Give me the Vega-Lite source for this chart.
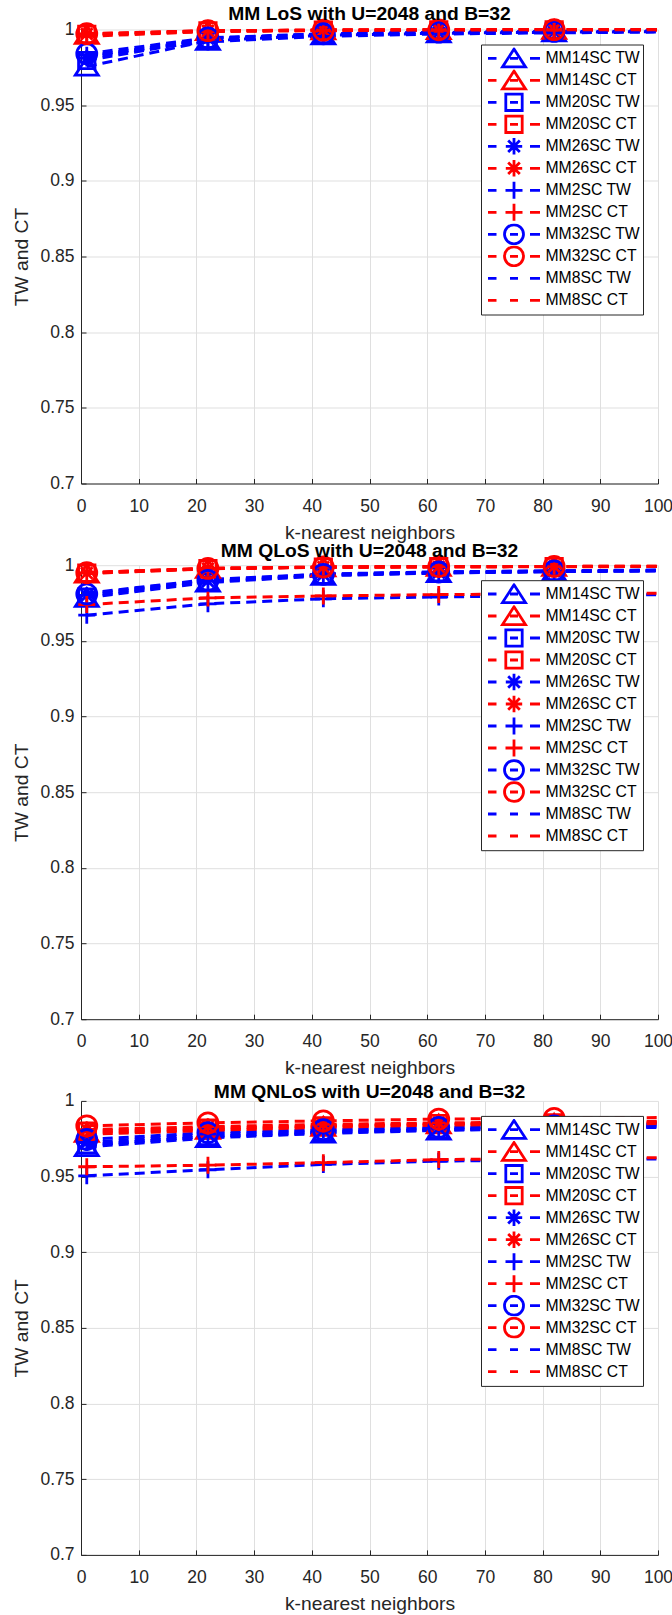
{
"$schema": "https://vega.github.io/schema/vega-lite/v6.json",
"autosize": {"type": "pad"},
"padding": {"left": 12, "top": 4.5, "right": 5, "bottom": 0},
"background": "white",
"bounds": "flush",
"spacing": 81.7,
"config": {
  "font": "Liberation Sans",
  "view": {"stroke": null},
  "title": {"fontSize": 19.25, "fontWeight": "bold", "font": "Liberation Sans", "color": "black", "anchor": "middle", "offset": -10, "baseline": "alphabetic"},
  "axis": {"domainColor": "#262626", "tickColor": "#262626", "labelColor": "#262626", "titleColor": "#262626", "gridColor": "#dfdfdf", "gridWidth": 1, "labelFontSize": 17.5, "titleFontSize": 19.25, "titleFontWeight": "normal", "labelFont": "Liberation Sans", "titleFont": "Liberation Sans", "tickSize": -5, "domainWidth": 1, "labelFlush": false, "labelOverlap": false},
  "axisX": {"labelPadding": 18.5, "titlePadding": 8.5},
  "axisY": {"labelPadding": 12, "titlePadding": 8},
  "legend": {"orient": "top-right", "offset": 15, "padding": 3, "fillColor": "white", "strokeColor": "#262626", "strokeWidth": 1, "cornerRadius": 0, "labelFontSize": 15.75, "labelFont": "Liberation Sans", "labelColor": "black", "labelOffset": 20, "symbolOffset": 18.5, "clipHeight": 21.6, "rowPadding": 0, "symbolStrokeWidth": 2.8, "symbolSize": 400, "symbolOpacity": 1, "titlePadding": 0}
},
"resolve": {"scale": {"color": "independent", "shape": "independent"}, "legend": {"color": "independent", "shape": "independent"}},
"datasets": {"d": [
{"p":"LoS","s":"MM14SC TW","k":1,"v":0.9755},{"p":"LoS","s":"MM14SC TW","k":22,"v":0.9925},{"p":"LoS","s":"MM14SC TW","k":42,"v":0.9962},{"p":"LoS","s":"MM14SC TW","k":62,"v":0.9975},{"p":"LoS","s":"MM14SC TW","k":82,"v":0.9982},{"p":"LoS","s":"MM14SC TW","k":100,"v":0.9986},
{"p":"LoS","s":"MM14SC CT","k":1,"v":0.9966},{"p":"LoS","s":"MM14SC CT","k":22,"v":0.999},{"p":"LoS","s":"MM14SC CT","k":42,"v":0.9995},{"p":"LoS","s":"MM14SC CT","k":62,"v":0.9997},{"p":"LoS","s":"MM14SC CT","k":82,"v":0.9998},{"p":"LoS","s":"MM14SC CT","k":100,"v":0.9999},
{"p":"LoS","s":"MM20SC TW","k":1,"v":0.9795},{"p":"LoS","s":"MM20SC TW","k":22,"v":0.9935},{"p":"LoS","s":"MM20SC TW","k":42,"v":0.9967},{"p":"LoS","s":"MM20SC TW","k":62,"v":0.9978},{"p":"LoS","s":"MM20SC TW","k":82,"v":0.9984},{"p":"LoS","s":"MM20SC TW","k":100,"v":0.9988},
{"p":"LoS","s":"MM20SC CT","k":1,"v":0.9968},{"p":"LoS","s":"MM20SC CT","k":22,"v":0.9991},{"p":"LoS","s":"MM20SC CT","k":42,"v":0.9996},{"p":"LoS","s":"MM20SC CT","k":62,"v":0.9997},{"p":"LoS","s":"MM20SC CT","k":82,"v":0.9998},{"p":"LoS","s":"MM20SC CT","k":100,"v":0.9999},
{"p":"LoS","s":"MM26SC TW","k":1,"v":0.981},{"p":"LoS","s":"MM26SC TW","k":22,"v":0.994},{"p":"LoS","s":"MM26SC TW","k":42,"v":0.997},{"p":"LoS","s":"MM26SC TW","k":62,"v":0.998},{"p":"LoS","s":"MM26SC TW","k":82,"v":0.9985},{"p":"LoS","s":"MM26SC TW","k":100,"v":0.9989},
{"p":"LoS","s":"MM26SC CT","k":1,"v":0.997},{"p":"LoS","s":"MM26SC CT","k":22,"v":0.9991},{"p":"LoS","s":"MM26SC CT","k":42,"v":0.9996},{"p":"LoS","s":"MM26SC CT","k":62,"v":0.9998},{"p":"LoS","s":"MM26SC CT","k":82,"v":0.9998},{"p":"LoS","s":"MM26SC CT","k":100,"v":0.9999},
{"p":"LoS","s":"MM2SC TW","k":1,"v":0.983},{"p":"LoS","s":"MM2SC TW","k":22,"v":0.9918},{"p":"LoS","s":"MM2SC TW","k":42,"v":0.9955},{"p":"LoS","s":"MM2SC TW","k":62,"v":0.997},{"p":"LoS","s":"MM2SC TW","k":82,"v":0.9978},{"p":"LoS","s":"MM2SC TW","k":100,"v":0.9983},
{"p":"LoS","s":"MM2SC CT","k":1,"v":0.9955},{"p":"LoS","s":"MM2SC CT","k":22,"v":0.9986},{"p":"LoS","s":"MM2SC CT","k":42,"v":0.9992},{"p":"LoS","s":"MM2SC CT","k":62,"v":0.9995},{"p":"LoS","s":"MM2SC CT","k":82,"v":0.9996},{"p":"LoS","s":"MM2SC CT","k":100,"v":0.9997},
{"p":"LoS","s":"MM32SC TW","k":1,"v":0.984},{"p":"LoS","s":"MM32SC TW","k":22,"v":0.9945},{"p":"LoS","s":"MM32SC TW","k":42,"v":0.9972},{"p":"LoS","s":"MM32SC TW","k":62,"v":0.9982},{"p":"LoS","s":"MM32SC TW","k":82,"v":0.9987},{"p":"LoS","s":"MM32SC TW","k":100,"v":0.999},
{"p":"LoS","s":"MM32SC CT","k":1,"v":0.9972},{"p":"LoS","s":"MM32SC CT","k":22,"v":0.9992},{"p":"LoS","s":"MM32SC CT","k":42,"v":0.9996},{"p":"LoS","s":"MM32SC CT","k":62,"v":0.9998},{"p":"LoS","s":"MM32SC CT","k":82,"v":0.9999},{"p":"LoS","s":"MM32SC CT","k":100,"v":0.9999},
{"p":"LoS","s":"MM8SC TW","k":1,"v":0.982},{"p":"LoS","s":"MM8SC TW","k":22,"v":0.994},{"p":"LoS","s":"MM8SC TW","k":42,"v":0.997},{"p":"LoS","s":"MM8SC TW","k":62,"v":0.998},{"p":"LoS","s":"MM8SC TW","k":82,"v":0.9985},{"p":"LoS","s":"MM8SC TW","k":100,"v":0.9989},
{"p":"LoS","s":"MM8SC CT","k":1,"v":0.9968},{"p":"LoS","s":"MM8SC CT","k":22,"v":0.999},{"p":"LoS","s":"MM8SC CT","k":42,"v":0.9995},{"p":"LoS","s":"MM8SC CT","k":62,"v":0.9997},{"p":"LoS","s":"MM8SC CT","k":82,"v":0.9998},{"p":"LoS","s":"MM8SC CT","k":100,"v":0.9999},
{"p":"QLoS","s":"MM14SC TW","k":1,"v":0.9785},{"p":"QLoS","s":"MM14SC TW","k":22,"v":0.9885},{"p":"QLoS","s":"MM14SC TW","k":42,"v":0.993},{"p":"QLoS","s":"MM14SC TW","k":62,"v":0.9948},{"p":"QLoS","s":"MM14SC TW","k":82,"v":0.9957},{"p":"QLoS","s":"MM14SC TW","k":100,"v":0.9962},
{"p":"QLoS","s":"MM14SC CT","k":1,"v":0.9945},{"p":"QLoS","s":"MM14SC CT","k":22,"v":0.9976},{"p":"QLoS","s":"MM14SC CT","k":42,"v":0.9986},{"p":"QLoS","s":"MM14SC CT","k":62,"v":0.9989},{"p":"QLoS","s":"MM14SC CT","k":82,"v":0.999},{"p":"QLoS","s":"MM14SC CT","k":100,"v":0.9991},
{"p":"QLoS","s":"MM20SC TW","k":1,"v":0.979},{"p":"QLoS","s":"MM20SC TW","k":22,"v":0.989},{"p":"QLoS","s":"MM20SC TW","k":42,"v":0.9934},{"p":"QLoS","s":"MM20SC TW","k":62,"v":0.995},{"p":"QLoS","s":"MM20SC TW","k":82,"v":0.9958},{"p":"QLoS","s":"MM20SC TW","k":100,"v":0.9963},
{"p":"QLoS","s":"MM20SC CT","k":1,"v":0.9947},{"p":"QLoS","s":"MM20SC CT","k":22,"v":0.9977},{"p":"QLoS","s":"MM20SC CT","k":42,"v":0.9987},{"p":"QLoS","s":"MM20SC CT","k":62,"v":0.999},{"p":"QLoS","s":"MM20SC CT","k":82,"v":0.9991},{"p":"QLoS","s":"MM20SC CT","k":100,"v":0.9992},
{"p":"QLoS","s":"MM26SC TW","k":1,"v":0.98},{"p":"QLoS","s":"MM26SC TW","k":22,"v":0.9895},{"p":"QLoS","s":"MM26SC TW","k":42,"v":0.9937},{"p":"QLoS","s":"MM26SC TW","k":62,"v":0.9952},{"p":"QLoS","s":"MM26SC TW","k":82,"v":0.996},{"p":"QLoS","s":"MM26SC TW","k":100,"v":0.9965},
{"p":"QLoS","s":"MM26SC CT","k":1,"v":0.9948},{"p":"QLoS","s":"MM26SC CT","k":22,"v":0.9978},{"p":"QLoS","s":"MM26SC CT","k":42,"v":0.9987},{"p":"QLoS","s":"MM26SC CT","k":62,"v":0.999},{"p":"QLoS","s":"MM26SC CT","k":82,"v":0.9991},{"p":"QLoS","s":"MM26SC CT","k":100,"v":0.9992},
{"p":"QLoS","s":"MM2SC TW","k":1,"v":0.967},{"p":"QLoS","s":"MM2SC TW","k":22,"v":0.9745},{"p":"QLoS","s":"MM2SC TW","k":42,"v":0.9778},{"p":"QLoS","s":"MM2SC TW","k":62,"v":0.979},{"p":"QLoS","s":"MM2SC TW","k":82,"v":0.98},{"p":"QLoS","s":"MM2SC TW","k":100,"v":0.9805},
{"p":"QLoS","s":"MM2SC CT","k":1,"v":0.974},{"p":"QLoS","s":"MM2SC CT","k":22,"v":0.9784},{"p":"QLoS","s":"MM2SC CT","k":42,"v":0.9797},{"p":"QLoS","s":"MM2SC CT","k":62,"v":0.9806},{"p":"QLoS","s":"MM2SC CT","k":82,"v":0.981},{"p":"QLoS","s":"MM2SC CT","k":100,"v":0.9815},
{"p":"QLoS","s":"MM32SC TW","k":1,"v":0.981},{"p":"QLoS","s":"MM32SC TW","k":22,"v":0.99},{"p":"QLoS","s":"MM32SC TW","k":42,"v":0.994},{"p":"QLoS","s":"MM32SC TW","k":62,"v":0.9955},{"p":"QLoS","s":"MM32SC TW","k":82,"v":0.9962},{"p":"QLoS","s":"MM32SC TW","k":100,"v":0.9967},
{"p":"QLoS","s":"MM32SC CT","k":1,"v":0.995},{"p":"QLoS","s":"MM32SC CT","k":22,"v":0.9979},{"p":"QLoS","s":"MM32SC CT","k":42,"v":0.9988},{"p":"QLoS","s":"MM32SC CT","k":62,"v":0.9991},{"p":"QLoS","s":"MM32SC CT","k":82,"v":0.9992},{"p":"QLoS","s":"MM32SC CT","k":100,"v":0.9993},
{"p":"QLoS","s":"MM8SC TW","k":1,"v":0.9815},{"p":"QLoS","s":"MM8SC TW","k":22,"v":0.9905},{"p":"QLoS","s":"MM8SC TW","k":42,"v":0.9942},{"p":"QLoS","s":"MM8SC TW","k":62,"v":0.9956},{"p":"QLoS","s":"MM8SC TW","k":82,"v":0.9963},{"p":"QLoS","s":"MM8SC TW","k":100,"v":0.9968},
{"p":"QLoS","s":"MM8SC CT","k":1,"v":0.9952},{"p":"QLoS","s":"MM8SC CT","k":22,"v":0.9979},{"p":"QLoS","s":"MM8SC CT","k":42,"v":0.9988},{"p":"QLoS","s":"MM8SC CT","k":62,"v":0.9991},{"p":"QLoS","s":"MM8SC CT","k":82,"v":0.9992},{"p":"QLoS","s":"MM8SC CT","k":100,"v":0.9993},
{"p":"QNLoS","s":"MM14SC TW","k":1,"v":0.9695},{"p":"QNLoS","s":"MM14SC TW","k":22,"v":0.9755},{"p":"QNLoS","s":"MM14SC TW","k":42,"v":0.9785},{"p":"QNLoS","s":"MM14SC TW","k":62,"v":0.9805},{"p":"QNLoS","s":"MM14SC TW","k":82,"v":0.9815},{"p":"QNLoS","s":"MM14SC TW","k":100,"v":0.9825},
{"p":"QNLoS","s":"MM14SC CT","k":1,"v":0.979},{"p":"QNLoS","s":"MM14SC CT","k":22,"v":0.981},{"p":"QNLoS","s":"MM14SC CT","k":42,"v":0.983},{"p":"QNLoS","s":"MM14SC CT","k":62,"v":0.9845},{"p":"QNLoS","s":"MM14SC CT","k":82,"v":0.985},{"p":"QNLoS","s":"MM14SC CT","k":100,"v":0.9855},
{"p":"QNLoS","s":"MM20SC TW","k":1,"v":0.971},{"p":"QNLoS","s":"MM20SC TW","k":22,"v":0.9765},{"p":"QNLoS","s":"MM20SC TW","k":42,"v":0.9795},{"p":"QNLoS","s":"MM20SC TW","k":62,"v":0.981},{"p":"QNLoS","s":"MM20SC TW","k":82,"v":0.982},{"p":"QNLoS","s":"MM20SC TW","k":100,"v":0.983},
{"p":"QNLoS","s":"MM20SC CT","k":1,"v":0.98},{"p":"QNLoS","s":"MM20SC CT","k":22,"v":0.982},{"p":"QNLoS","s":"MM20SC CT","k":42,"v":0.9835},{"p":"QNLoS","s":"MM20SC CT","k":62,"v":0.985},{"p":"QNLoS","s":"MM20SC CT","k":82,"v":0.9855},{"p":"QNLoS","s":"MM20SC CT","k":100,"v":0.986},
{"p":"QNLoS","s":"MM26SC TW","k":1,"v":0.9725},{"p":"QNLoS","s":"MM26SC TW","k":22,"v":0.978},{"p":"QNLoS","s":"MM26SC TW","k":42,"v":0.9805},{"p":"QNLoS","s":"MM26SC TW","k":62,"v":0.982},{"p":"QNLoS","s":"MM26SC TW","k":82,"v":0.983},{"p":"QNLoS","s":"MM26SC TW","k":100,"v":0.984},
{"p":"QNLoS","s":"MM26SC CT","k":1,"v":0.981},{"p":"QNLoS","s":"MM26SC CT","k":22,"v":0.983},{"p":"QNLoS","s":"MM26SC CT","k":42,"v":0.9845},{"p":"QNLoS","s":"MM26SC CT","k":62,"v":0.9855},{"p":"QNLoS","s":"MM26SC CT","k":82,"v":0.986},{"p":"QNLoS","s":"MM26SC CT","k":100,"v":0.9865},
{"p":"QNLoS","s":"MM2SC TW","k":1,"v":0.9505},{"p":"QNLoS","s":"MM2SC TW","k":22,"v":0.9545},{"p":"QNLoS","s":"MM2SC TW","k":42,"v":0.958},{"p":"QNLoS","s":"MM2SC TW","k":62,"v":0.9602},{"p":"QNLoS","s":"MM2SC TW","k":82,"v":0.961},{"p":"QNLoS","s":"MM2SC TW","k":100,"v":0.9617},
{"p":"QNLoS","s":"MM2SC CT","k":1,"v":0.9565},{"p":"QNLoS","s":"MM2SC CT","k":22,"v":0.9575},{"p":"QNLoS","s":"MM2SC CT","k":42,"v":0.9592},{"p":"QNLoS","s":"MM2SC CT","k":62,"v":0.9612},{"p":"QNLoS","s":"MM2SC CT","k":82,"v":0.962},{"p":"QNLoS","s":"MM2SC CT","k":100,"v":0.9625},
{"p":"QNLoS","s":"MM32SC TW","k":1,"v":0.9745},{"p":"QNLoS","s":"MM32SC TW","k":22,"v":0.979},{"p":"QNLoS","s":"MM32SC TW","k":42,"v":0.981},{"p":"QNLoS","s":"MM32SC TW","k":62,"v":0.9825},{"p":"QNLoS","s":"MM32SC TW","k":82,"v":0.9835},{"p":"QNLoS","s":"MM32SC TW","k":100,"v":0.9845},
{"p":"QNLoS","s":"MM32SC CT","k":1,"v":0.9835},{"p":"QNLoS","s":"MM32SC CT","k":22,"v":0.9855},{"p":"QNLoS","s":"MM32SC CT","k":42,"v":0.9868},{"p":"QNLoS","s":"MM32SC CT","k":62,"v":0.988},{"p":"QNLoS","s":"MM32SC CT","k":82,"v":0.9885},{"p":"QNLoS","s":"MM32SC CT","k":100,"v":0.989},
{"p":"QNLoS","s":"MM8SC TW","k":1,"v":0.9705},{"p":"QNLoS","s":"MM8SC TW","k":22,"v":0.9765},{"p":"QNLoS","s":"MM8SC TW","k":42,"v":0.979},{"p":"QNLoS","s":"MM8SC TW","k":62,"v":0.981},{"p":"QNLoS","s":"MM8SC TW","k":82,"v":0.982},{"p":"QNLoS","s":"MM8SC TW","k":100,"v":0.983},
{"p":"QNLoS","s":"MM8SC CT","k":1,"v":0.978},{"p":"QNLoS","s":"MM8SC CT","k":22,"v":0.9805},{"p":"QNLoS","s":"MM8SC CT","k":42,"v":0.9825},{"p":"QNLoS","s":"MM8SC CT","k":62,"v":0.984},{"p":"QNLoS","s":"MM8SC CT","k":82,"v":0.9845},{"p":"QNLoS","s":"MM8SC CT","k":100,"v":0.985}
]},
"vconcat": [
{
  "title": {"text": "MM LoS with U=2048 and B=32"},
  "width": 577, "height": 454,
  "data": {"name": "d"},
  "transform": [{"filter": "datum.p == 'LoS'"}],
  "resolve": {"scale": {"color": "independent", "shape": "independent"}},
  "layer": [
    {"mark": {"type": "line", "strokeDash": [10, 6], "strokeWidth": 3},
     "encoding": {
      "x": {"field": "k", "type": "quantitative", "title": "k-nearest neighbors", "scale": {"domain": [0, 100], "nice": false}, "axis": {"values": [0,10,20,30,40,50,60,70,80,90,100], "grid": true}},
      "y": {"field": "v", "type": "quantitative", "title": "TW and CT", "scale": {"domain": [0.7, 1], "nice": false, "zero": false}, "axis": {"values": [0.7,0.75,0.8,0.85,0.9,0.95,1], "format": ".2~f", "grid": true}},
      "color": {"field": "s", "type": "nominal", "legend": null, "scale": {"domain": ["MM14SC TW","MM14SC CT","MM20SC TW","MM20SC CT","MM26SC TW","MM26SC CT","MM2SC TW","MM2SC CT","MM32SC TW","MM32SC CT","MM8SC TW","MM8SC CT"], "range": ["#0000ff","#ff0000","#0000ff","#ff0000","#0000ff","#ff0000","#0000ff","#ff0000","#0000ff","#ff0000","#0000ff","#ff0000"]}},
      "order": {"field": "k", "type": "quantitative"}
    }},
    {"transform": [{"filter": "datum.k < 100"}],
     "mark": {"type": "point", "filled": false, "size": 400, "strokeWidth": 2.8, "opacity": 1},
     "encoding": {
      "x": {"field": "k", "type": "quantitative"},
      "y": {"field": "v", "type": "quantitative"},
      "color": {"field": "s", "type": "nominal", "legend": null, "scale": {"domain": ["MM14SC TW","MM14SC CT","MM20SC TW","MM20SC CT","MM26SC TW","MM26SC CT","MM2SC TW","MM2SC CT","MM32SC TW","MM32SC CT","MM8SC TW","MM8SC CT"], "range": ["#0000ff","#ff0000","#0000ff","#ff0000","#0000ff","#ff0000","#0000ff","#ff0000","#0000ff","#ff0000","#0000ff","#ff0000"]}},
      "shape": {"field": "s", "type": "nominal", "legend": null, "scale": {"domain": ["MM14SC TW","MM14SC CT","MM20SC TW","MM20SC CT","MM26SC TW","MM26SC CT","MM2SC TW","MM2SC CT","MM32SC TW","MM32SC CT","MM8SC TW","MM8SC CT"], "range": ["M0,-0.92L1.15,0.86L-1.15,0.86Z","M0,-0.92L1.15,0.86L-1.15,0.86Z","M-0.82,-0.82H0.82V0.82H-0.82Z","M-0.82,-0.82H0.82V0.82H-0.82Z","M0,-0.82V0.82M-0.82,0H0.82M-0.58,-0.58L0.58,0.58M-0.58,0.58L0.58,-0.58","M0,-0.82V0.82M-0.82,0H0.82M-0.58,-0.58L0.58,0.58M-0.58,0.58L0.58,-0.58","M0,-0.85V0.85M-0.85,0H0.85","M0,-0.85V0.85M-0.85,0H0.85","M-1,0A1,1,0,1,0,1,0A1,1,0,1,0,-1,0Z","M-1,0A1,1,0,1,0,1,0A1,1,0,1,0,-1,0Z","M0,0","M0,0"]}}
    }},
    {"transform": [{"filter": "datum.k < 0"}],
     "mark": {"type": "point", "filled": false, "strokeWidth": 2.8, "opacity": 1},
     "encoding": {
      "x": {"field": "k", "type": "quantitative"},
      "y": {"field": "v", "type": "quantitative"},
      "color": {"field": "s", "type": "nominal", "legend": {"title": null}, "scale": {"domain": ["MM14SC TW","MM14SC CT","MM20SC TW","MM20SC CT","MM26SC TW","MM26SC CT","MM2SC TW","MM2SC CT","MM32SC TW","MM32SC CT","MM8SC TW","MM8SC CT"], "range": ["#0000ff","#ff0000","#0000ff","#ff0000","#0000ff","#ff0000","#0000ff","#ff0000","#0000ff","#ff0000","#0000ff","#ff0000"]}},
      "shape": {"field": "s", "type": "nominal", "legend": {"title": null}, "scale": {"domain": ["MM14SC TW","MM14SC CT","MM20SC TW","MM20SC CT","MM26SC TW","MM26SC CT","MM2SC TW","MM2SC CT","MM32SC TW","MM32SC CT","MM8SC TW","MM8SC CT"], "range": ["M-2.6,0H-1.75M-0.4,0H0.4M1.6,0H2.6M0,-0.92L1.15,0.86L-1.15,0.86Z","M-2.6,0H-1.75M-0.4,0H0.4M1.6,0H2.6M0,-0.92L1.15,0.86L-1.15,0.86Z","M-2.6,0H-1.75M-0.4,0H0.4M1.6,0H2.6M-0.82,-0.82H0.82V0.82H-0.82Z","M-2.6,0H-1.75M-0.4,0H0.4M1.6,0H2.6M-0.82,-0.82H0.82V0.82H-0.82Z","M-2.6,0H-1.75M-0.4,0H0.4M1.6,0H2.6M0,-0.82V0.82M-0.82,0H0.82M-0.58,-0.58L0.58,0.58M-0.58,0.58L0.58,-0.58","M-2.6,0H-1.75M-0.4,0H0.4M1.6,0H2.6M0,-0.82V0.82M-0.82,0H0.82M-0.58,-0.58L0.58,0.58M-0.58,0.58L0.58,-0.58","M-2.6,0H-1.75M-0.4,0H0.4M1.6,0H2.6M0,-0.85V0.85M-0.85,0H0.85","M-2.6,0H-1.75M-0.4,0H0.4M1.6,0H2.6M0,-0.85V0.85M-0.85,0H0.85","M-2.6,0H-1.75M-0.4,0H0.4M1.6,0H2.6M-0.95,0A0.95,0.95,0,1,0,0.95,0A0.95,0.95,0,1,0,-0.95,0Z","M-2.6,0H-1.75M-0.4,0H0.4M1.6,0H2.6M-0.95,0A0.95,0.95,0,1,0,0.95,0A0.95,0.95,0,1,0,-0.95,0Z","M-2.6,0H-1.75M-0.4,0H0.4M1.6,0H2.6","M-2.6,0H-1.75M-0.4,0H0.4M1.6,0H2.6"]}}
    }}
  ]
},
{
  "title": {"text": "MM QLoS with U=2048 and B=32"},
  "width": 577, "height": 454,
  "data": {"name": "d"},
  "transform": [{"filter": "datum.p == 'QLoS'"}],
  "resolve": {"scale": {"color": "independent", "shape": "independent"}},
  "layer": [
    {"mark": {"type": "line", "strokeDash": [10, 6], "strokeWidth": 3},
     "encoding": {
      "x": {"field": "k", "type": "quantitative", "title": "k-nearest neighbors", "scale": {"domain": [0, 100], "nice": false}, "axis": {"values": [0,10,20,30,40,50,60,70,80,90,100], "grid": true}},
      "y": {"field": "v", "type": "quantitative", "title": "TW and CT", "scale": {"domain": [0.7, 1], "nice": false, "zero": false}, "axis": {"values": [0.7,0.75,0.8,0.85,0.9,0.95,1], "format": ".2~f", "grid": true}},
      "color": {"field": "s", "type": "nominal", "legend": null, "scale": {"domain": ["MM14SC TW","MM14SC CT","MM20SC TW","MM20SC CT","MM26SC TW","MM26SC CT","MM2SC TW","MM2SC CT","MM32SC TW","MM32SC CT","MM8SC TW","MM8SC CT"], "range": ["#0000ff","#ff0000","#0000ff","#ff0000","#0000ff","#ff0000","#0000ff","#ff0000","#0000ff","#ff0000","#0000ff","#ff0000"]}},
      "order": {"field": "k", "type": "quantitative"}
    }},
    {"transform": [{"filter": "datum.k < 100"}],
     "mark": {"type": "point", "filled": false, "size": 400, "strokeWidth": 2.8, "opacity": 1},
     "encoding": {
      "x": {"field": "k", "type": "quantitative"},
      "y": {"field": "v", "type": "quantitative"},
      "color": {"field": "s", "type": "nominal", "legend": null, "scale": {"domain": ["MM14SC TW","MM14SC CT","MM20SC TW","MM20SC CT","MM26SC TW","MM26SC CT","MM2SC TW","MM2SC CT","MM32SC TW","MM32SC CT","MM8SC TW","MM8SC CT"], "range": ["#0000ff","#ff0000","#0000ff","#ff0000","#0000ff","#ff0000","#0000ff","#ff0000","#0000ff","#ff0000","#0000ff","#ff0000"]}},
      "shape": {"field": "s", "type": "nominal", "legend": null, "scale": {"domain": ["MM14SC TW","MM14SC CT","MM20SC TW","MM20SC CT","MM26SC TW","MM26SC CT","MM2SC TW","MM2SC CT","MM32SC TW","MM32SC CT","MM8SC TW","MM8SC CT"], "range": ["M0,-0.92L1.15,0.86L-1.15,0.86Z","M0,-0.92L1.15,0.86L-1.15,0.86Z","M-0.82,-0.82H0.82V0.82H-0.82Z","M-0.82,-0.82H0.82V0.82H-0.82Z","M0,-0.82V0.82M-0.82,0H0.82M-0.58,-0.58L0.58,0.58M-0.58,0.58L0.58,-0.58","M0,-0.82V0.82M-0.82,0H0.82M-0.58,-0.58L0.58,0.58M-0.58,0.58L0.58,-0.58","M0,-0.85V0.85M-0.85,0H0.85","M0,-0.85V0.85M-0.85,0H0.85","M-1,0A1,1,0,1,0,1,0A1,1,0,1,0,-1,0Z","M-1,0A1,1,0,1,0,1,0A1,1,0,1,0,-1,0Z","M0,0","M0,0"]}}
    }},
    {"transform": [{"filter": "datum.k < 0"}],
     "mark": {"type": "point", "filled": false, "strokeWidth": 2.8, "opacity": 1},
     "encoding": {
      "x": {"field": "k", "type": "quantitative"},
      "y": {"field": "v", "type": "quantitative"},
      "color": {"field": "s", "type": "nominal", "legend": {"title": null}, "scale": {"domain": ["MM14SC TW","MM14SC CT","MM20SC TW","MM20SC CT","MM26SC TW","MM26SC CT","MM2SC TW","MM2SC CT","MM32SC TW","MM32SC CT","MM8SC TW","MM8SC CT"], "range": ["#0000ff","#ff0000","#0000ff","#ff0000","#0000ff","#ff0000","#0000ff","#ff0000","#0000ff","#ff0000","#0000ff","#ff0000"]}},
      "shape": {"field": "s", "type": "nominal", "legend": {"title": null}, "scale": {"domain": ["MM14SC TW","MM14SC CT","MM20SC TW","MM20SC CT","MM26SC TW","MM26SC CT","MM2SC TW","MM2SC CT","MM32SC TW","MM32SC CT","MM8SC TW","MM8SC CT"], "range": ["M-2.6,0H-1.75M-0.4,0H0.4M1.6,0H2.6M0,-0.92L1.15,0.86L-1.15,0.86Z","M-2.6,0H-1.75M-0.4,0H0.4M1.6,0H2.6M0,-0.92L1.15,0.86L-1.15,0.86Z","M-2.6,0H-1.75M-0.4,0H0.4M1.6,0H2.6M-0.82,-0.82H0.82V0.82H-0.82Z","M-2.6,0H-1.75M-0.4,0H0.4M1.6,0H2.6M-0.82,-0.82H0.82V0.82H-0.82Z","M-2.6,0H-1.75M-0.4,0H0.4M1.6,0H2.6M0,-0.82V0.82M-0.82,0H0.82M-0.58,-0.58L0.58,0.58M-0.58,0.58L0.58,-0.58","M-2.6,0H-1.75M-0.4,0H0.4M1.6,0H2.6M0,-0.82V0.82M-0.82,0H0.82M-0.58,-0.58L0.58,0.58M-0.58,0.58L0.58,-0.58","M-2.6,0H-1.75M-0.4,0H0.4M1.6,0H2.6M0,-0.85V0.85M-0.85,0H0.85","M-2.6,0H-1.75M-0.4,0H0.4M1.6,0H2.6M0,-0.85V0.85M-0.85,0H0.85","M-2.6,0H-1.75M-0.4,0H0.4M1.6,0H2.6M-0.95,0A0.95,0.95,0,1,0,0.95,0A0.95,0.95,0,1,0,-0.95,0Z","M-2.6,0H-1.75M-0.4,0H0.4M1.6,0H2.6M-0.95,0A0.95,0.95,0,1,0,0.95,0A0.95,0.95,0,1,0,-0.95,0Z","M-2.6,0H-1.75M-0.4,0H0.4M1.6,0H2.6","M-2.6,0H-1.75M-0.4,0H0.4M1.6,0H2.6"]}}
    }}
  ]
},
{
  "title": {"text": "MM QNLoS with U=2048 and B=32"},
  "width": 577, "height": 454,
  "data": {"name": "d"},
  "transform": [{"filter": "datum.p == 'QNLoS'"}],
  "resolve": {"scale": {"color": "independent", "shape": "independent"}},
  "layer": [
    {"mark": {"type": "line", "strokeDash": [10, 6], "strokeWidth": 3},
     "encoding": {
      "x": {"field": "k", "type": "quantitative", "title": "k-nearest neighbors", "scale": {"domain": [0, 100], "nice": false}, "axis": {"values": [0,10,20,30,40,50,60,70,80,90,100], "grid": true}},
      "y": {"field": "v", "type": "quantitative", "title": "TW and CT", "scale": {"domain": [0.7, 1], "nice": false, "zero": false}, "axis": {"values": [0.7,0.75,0.8,0.85,0.9,0.95,1], "format": ".2~f", "grid": true}},
      "color": {"field": "s", "type": "nominal", "legend": null, "scale": {"domain": ["MM14SC TW","MM14SC CT","MM20SC TW","MM20SC CT","MM26SC TW","MM26SC CT","MM2SC TW","MM2SC CT","MM32SC TW","MM32SC CT","MM8SC TW","MM8SC CT"], "range": ["#0000ff","#ff0000","#0000ff","#ff0000","#0000ff","#ff0000","#0000ff","#ff0000","#0000ff","#ff0000","#0000ff","#ff0000"]}},
      "order": {"field": "k", "type": "quantitative"}
    }},
    {"transform": [{"filter": "datum.k < 100"}],
     "mark": {"type": "point", "filled": false, "size": 400, "strokeWidth": 2.8, "opacity": 1},
     "encoding": {
      "x": {"field": "k", "type": "quantitative"},
      "y": {"field": "v", "type": "quantitative"},
      "color": {"field": "s", "type": "nominal", "legend": null, "scale": {"domain": ["MM14SC TW","MM14SC CT","MM20SC TW","MM20SC CT","MM26SC TW","MM26SC CT","MM2SC TW","MM2SC CT","MM32SC TW","MM32SC CT","MM8SC TW","MM8SC CT"], "range": ["#0000ff","#ff0000","#0000ff","#ff0000","#0000ff","#ff0000","#0000ff","#ff0000","#0000ff","#ff0000","#0000ff","#ff0000"]}},
      "shape": {"field": "s", "type": "nominal", "legend": null, "scale": {"domain": ["MM14SC TW","MM14SC CT","MM20SC TW","MM20SC CT","MM26SC TW","MM26SC CT","MM2SC TW","MM2SC CT","MM32SC TW","MM32SC CT","MM8SC TW","MM8SC CT"], "range": ["M0,-0.92L1.15,0.86L-1.15,0.86Z","M0,-0.92L1.15,0.86L-1.15,0.86Z","M-0.82,-0.82H0.82V0.82H-0.82Z","M-0.82,-0.82H0.82V0.82H-0.82Z","M0,-0.82V0.82M-0.82,0H0.82M-0.58,-0.58L0.58,0.58M-0.58,0.58L0.58,-0.58","M0,-0.82V0.82M-0.82,0H0.82M-0.58,-0.58L0.58,0.58M-0.58,0.58L0.58,-0.58","M0,-0.85V0.85M-0.85,0H0.85","M0,-0.85V0.85M-0.85,0H0.85","M-1,0A1,1,0,1,0,1,0A1,1,0,1,0,-1,0Z","M-1,0A1,1,0,1,0,1,0A1,1,0,1,0,-1,0Z","M0,0","M0,0"]}}
    }},
    {"transform": [{"filter": "datum.k < 0"}],
     "mark": {"type": "point", "filled": false, "strokeWidth": 2.8, "opacity": 1},
     "encoding": {
      "x": {"field": "k", "type": "quantitative"},
      "y": {"field": "v", "type": "quantitative"},
      "color": {"field": "s", "type": "nominal", "legend": {"title": null}, "scale": {"domain": ["MM14SC TW","MM14SC CT","MM20SC TW","MM20SC CT","MM26SC TW","MM26SC CT","MM2SC TW","MM2SC CT","MM32SC TW","MM32SC CT","MM8SC TW","MM8SC CT"], "range": ["#0000ff","#ff0000","#0000ff","#ff0000","#0000ff","#ff0000","#0000ff","#ff0000","#0000ff","#ff0000","#0000ff","#ff0000"]}},
      "shape": {"field": "s", "type": "nominal", "legend": {"title": null}, "scale": {"domain": ["MM14SC TW","MM14SC CT","MM20SC TW","MM20SC CT","MM26SC TW","MM26SC CT","MM2SC TW","MM2SC CT","MM32SC TW","MM32SC CT","MM8SC TW","MM8SC CT"], "range": ["M-2.6,0H-1.75M-0.4,0H0.4M1.6,0H2.6M0,-0.92L1.15,0.86L-1.15,0.86Z","M-2.6,0H-1.75M-0.4,0H0.4M1.6,0H2.6M0,-0.92L1.15,0.86L-1.15,0.86Z","M-2.6,0H-1.75M-0.4,0H0.4M1.6,0H2.6M-0.82,-0.82H0.82V0.82H-0.82Z","M-2.6,0H-1.75M-0.4,0H0.4M1.6,0H2.6M-0.82,-0.82H0.82V0.82H-0.82Z","M-2.6,0H-1.75M-0.4,0H0.4M1.6,0H2.6M0,-0.82V0.82M-0.82,0H0.82M-0.58,-0.58L0.58,0.58M-0.58,0.58L0.58,-0.58","M-2.6,0H-1.75M-0.4,0H0.4M1.6,0H2.6M0,-0.82V0.82M-0.82,0H0.82M-0.58,-0.58L0.58,0.58M-0.58,0.58L0.58,-0.58","M-2.6,0H-1.75M-0.4,0H0.4M1.6,0H2.6M0,-0.85V0.85M-0.85,0H0.85","M-2.6,0H-1.75M-0.4,0H0.4M1.6,0H2.6M0,-0.85V0.85M-0.85,0H0.85","M-2.6,0H-1.75M-0.4,0H0.4M1.6,0H2.6M-0.95,0A0.95,0.95,0,1,0,0.95,0A0.95,0.95,0,1,0,-0.95,0Z","M-2.6,0H-1.75M-0.4,0H0.4M1.6,0H2.6M-0.95,0A0.95,0.95,0,1,0,0.95,0A0.95,0.95,0,1,0,-0.95,0Z","M-2.6,0H-1.75M-0.4,0H0.4M1.6,0H2.6","M-2.6,0H-1.75M-0.4,0H0.4M1.6,0H2.6"]}}
    }}
  ]
}
]
}
